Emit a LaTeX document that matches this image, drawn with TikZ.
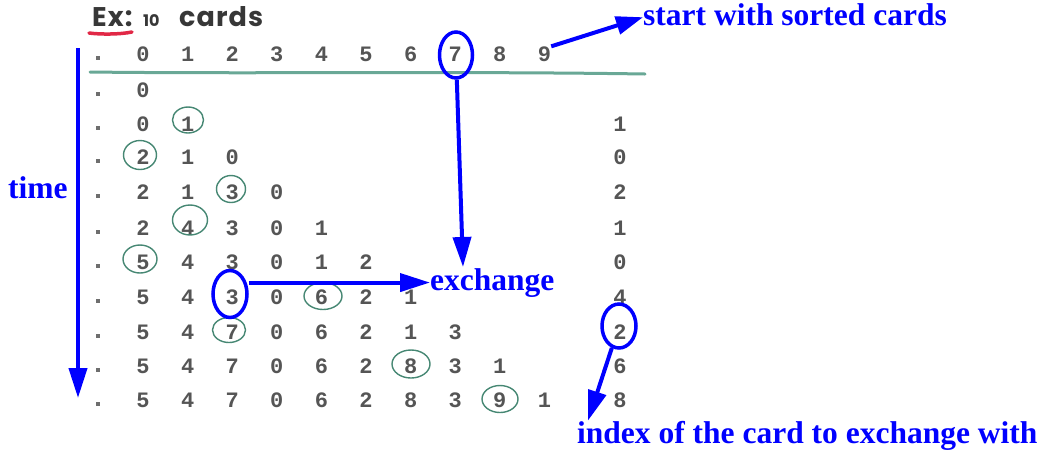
\documentclass[tikz,border=0pt]{standalone}
\usepackage{fontspec}
\setmainfont{Liberation Serif}
\newfontfamily\digfont{Liberation Mono}
\newfontfamily\titlefont{Poppins}
\usetikzlibrary{arrows.meta,shapes.geometric}
\definecolor{bblue}{RGB}{0,0,255}
\definecolor{dgray}{RGB}{85,85,85}
\definecolor{tgray}{RGB}{55,55,55}
\definecolor{gline}{RGB}{105,168,150}
\definecolor{gcirc}{RGB}{70,135,115}
\definecolor{redul}{RGB}{225,40,70}
\tikzset{
  dig/.style={font=\digfont\bfseries\fontsize{22}{22}\selectfont, text=dgray, inner sep=0pt},
  dotmark/.style={fill=dgray!85, minimum size=3.5pt, inner sep=0pt},
  gcircle/.style={draw=gcirc, line width=1.4pt, ellipse, inner sep=0pt},
  bcircle/.style={draw=bblue, line width=3.5pt, ellipse, inner sep=0pt},
  barrow/.style={draw=bblue, line width=4pt, -{Triangle[length=30pt,width=18pt]}},
  lbl/.style={font=\bfseries\fontsize{31.5}{32}\selectfont, text=bblue, inner sep=0pt, anchor=base west},
  ttl/.style={font=\titlefont\bfseries\fontsize{27}{27}\selectfont, text=tgray, inner sep=0pt, anchor=base west}
}
\begin{document}
\begin{tikzpicture}[x=1pt,y=-1pt]
\useasboundingbox (0,0) rectangle (1043,451);

% title
\node[ttl] (ex) at (92,26) {\addfontfeature{LetterSpace=4}Ex:};
\node[ttl, font=\titlefont\bfseries\fontsize{16}{16}\selectfont] (ten) at (143,26) {10};
\node[ttl] (cards) at (179,26) {\addfontfeature{LetterSpace=4}cards};
\draw[redul, line width=3.5pt, line cap=round] (89,33) .. controls (100,34.5) and (120,34.5) .. (132,32);

% header row
\node[dotmark] (dot0) at (98,58) {};
\foreach \c in {0,...,9} {
  \node[dig] (n0-\c) at ({143+44.6*\c},54) {\c};
}
\draw[gline, line width=3pt, line cap=round] (90,72) .. controls (250,74) and (450,71) .. (645,74);

% rows
\foreach \r/\yy/\vals in {1/90/{0}, 2/124/{0,1}, 3/157/{2,1,0}, 4/192/{2,1,3,0},
    5/228/{2,4,3,0,1}, 6/262/{5,4,3,0,1,2}, 7/297/{5,4,3,0,6,2,1},
    8/332/{5,4,7,0,6,2,1,3}, 9/366/{5,4,7,0,6,2,8,3,1}, 10/400/{5,4,7,0,6,2,8,3,9,1}} {
  \node[dotmark] (dot\r) at (98,\yy+4) {};
  \foreach \v [count=\c from 0] in \vals {
    \node[dig] (n\r-\c) at ({143+44.6*\c},\yy) {\v};
  }
}
% index column
\foreach \r/\yy/\v in {2/124/1, 3/157/0, 4/192/2, 5/228/1, 6/262/0, 7/297/4, 8/332/2, 9/366/6, 10/400/8} {
  \node[dig] (i\r) at (620,\yy) {\v};
}

% green hand-drawn circles
\node[gcircle, minimum width=31pt, minimum height=26pt] (g2) at (188,120) {};
\node[gcircle, minimum width=33pt, minimum height=29pt] (g3) at (140,155) {};
\node[gcircle, minimum width=29pt, minimum height=27pt] (g4) at (231,189) {};
\node[gcircle, minimum width=35pt, minimum height=30pt] (g5) at (190,220) {};
\node[gcircle, minimum width=34pt, minimum height=28pt] (g6) at (140,259) {};
\node[gcircle, minimum width=38pt, minimum height=27pt] (g7) at (323,296) {};
\node[gcircle, minimum width=33pt, minimum height=25pt] (g8) at (229,330) {};
\node[gcircle, minimum width=38pt, minimum height=28pt] (g9) at (411,364) {};
\node[gcircle, minimum width=36pt, minimum height=27pt] (g10) at (500,399) {};

% blue ellipses
\node[bcircle, minimum width=33pt, minimum height=46pt] (b7) at (456,55) {};
\node[bcircle, minimum width=34pt, minimum height=47pt] (b3) at (230,294) {};
\node[bcircle, minimum width=34pt, minimum height=44pt] (bR) at (619,326) {};

% labels
\node[lbl] (time) at (8,198) {time};
\node[lbl] (start) at (643,25) {start with sorted cards};
\node[lbl] (exchange) at (430,290) {exchange};
\node[lbl] (index) at (577,443) {index of the card to exchange with};

% arrows
\coordinate (tTop) at (78,48);
\coordinate (tBot) at (78,398);
\draw[barrow] (tTop) -- (tBot);
\draw[barrow, -{Triangle[length=27pt,width=18pt]}] (n0-9.north east) -- ([yshift=-3pt]start.west);
\coordinate (xTip) at (463,267);
\draw[barrow] (b7) -- (xTip);
\draw[barrow] (b3.east |- exchange.west) -- (exchange.west);
\draw[barrow] (bR) -- ([xshift=11pt]index.north west);
\end{tikzpicture}
\end{document}
